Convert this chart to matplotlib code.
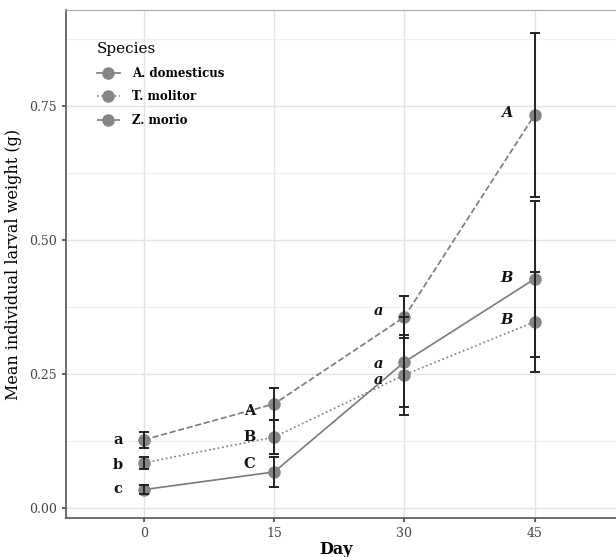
import matplotlib.pyplot as plt
import numpy as np

days = [0, 15, 30, 45]
species = ["A. domesticus", "T. molitor", "Z. morio"]

# mean weight (g) and error per species
dom_mean = [0.034, 0.067, 0.272, 0.427]
dom_err = [0.008, 0.028, 0.084, 0.146]
mol_mean = [0.084, 0.132, 0.248, 0.347]
mol_err = [0.011, 0.032, 0.074, 0.094]
mor_mean = [0.127, 0.194, 0.356, 0.733]
mor_err = [0.015, 0.030, 0.039, 0.153]

# significance letters (x, y, text, style)
letters = [
    (-2.5, 0.127, "a", "normal"), (-2.5, 0.080, "b", "normal"), (-2.5, 0.036, "c", "normal"),
    (12.8, 0.180, "A", "normal"), (12.8, 0.132, "B", "normal"), (12.8, 0.082, "C", "normal"),
    (27.6, 0.368, "a", "italic"), (27.6, 0.268, "a", "italic"), (27.6, 0.238, "a", "italic"),
    (42.5, 0.737, "A", "italic"), (42.5, 0.429, "B", "italic"), (42.5, 0.350, "B", "italic"),
]

plt.rcParams['font.family'] = 'DejaVu Serif'

fig = plt.figure(figsize=(6.16, 5.57), dpi=100)
ax = fig.add_axes([66 / 616, 39 / 557, 1.0, 508 / 557])

styles = ["-", ":", "--"]
means = [dom_mean, mol_mean, mor_mean]
errs = [dom_err, mol_err, mor_err]
pt_col = "#858585"
ln_col = "#7a7a7a"

for name, m, e, ls in zip(species, means, errs, styles):
    ax.plot(days, m, ls=ls, color=ln_col, lw=1.2, marker="o", ms=8,
            mfc=pt_col, mec=pt_col, label=name, zorder=3)
    ax.errorbar(days, m, yerr=e, fmt="none", ecolor="#222222", elinewidth=1.4,
                capsize=3.5, capthick=1.4, zorder=4)

for x, y, t, st in letters:
    ax.text(x, y, t, ha="right", va="center", fontsize=10.5, fontweight="bold",
            fontstyle=st, color="#111111")

ax.set_xlim(-9, 62)
ax.set_ylim(-0.019, 0.929)
ax.set_xticks(days)
ax.set_yticks([0, 0.25, 0.5, 0.75])
ax.set_yticklabels(["0.00", "0.25", "0.50", "0.75"])
ax.set_yticks([0.125, 0.375, 0.625, 0.875], minor=True)
ax.grid(True, which="major", color="#e3e3e3", lw=1.0)
ax.grid(True, which="minor", axis="y", color="#eeeeee", lw=0.8)
ax.set_axisbelow(True)
ax.tick_params(axis="both", which="major", labelsize=9, colors="#444444",
               length=3, width=1.2)
ax.tick_params(axis="y", which="minor", length=0)
ax.spines["top"].set_color("#aaaaaa")
for s in ["left", "bottom"]:
    ax.spines[s].set_color("#555555")
    ax.spines[s].set_linewidth(1.2)
ax.spines["right"].set_visible(False)

ax.set_xlabel("Day", fontsize=11.5, fontweight="bold")
ax.set_ylabel("Mean individual larval weight (g)", fontsize=11.5)
ax.xaxis.set_label_coords((336 - 66) / 616, -0.045)
ax.yaxis.set_label_coords(-0.071, 0.5)

leg = ax.legend(title="Species", loc="upper left", bbox_to_anchor=(0.042, 0.946),
                frameon=False, fontsize=8.5, title_fontsize=11, handlelength=2.0,
                handletextpad=1.0, labelspacing=0.9, borderaxespad=0)
leg._legend_box.align = "left"
for t in leg.get_texts():
    t.set_fontweight("bold")

fig.savefig("out.png", dpi=100)
